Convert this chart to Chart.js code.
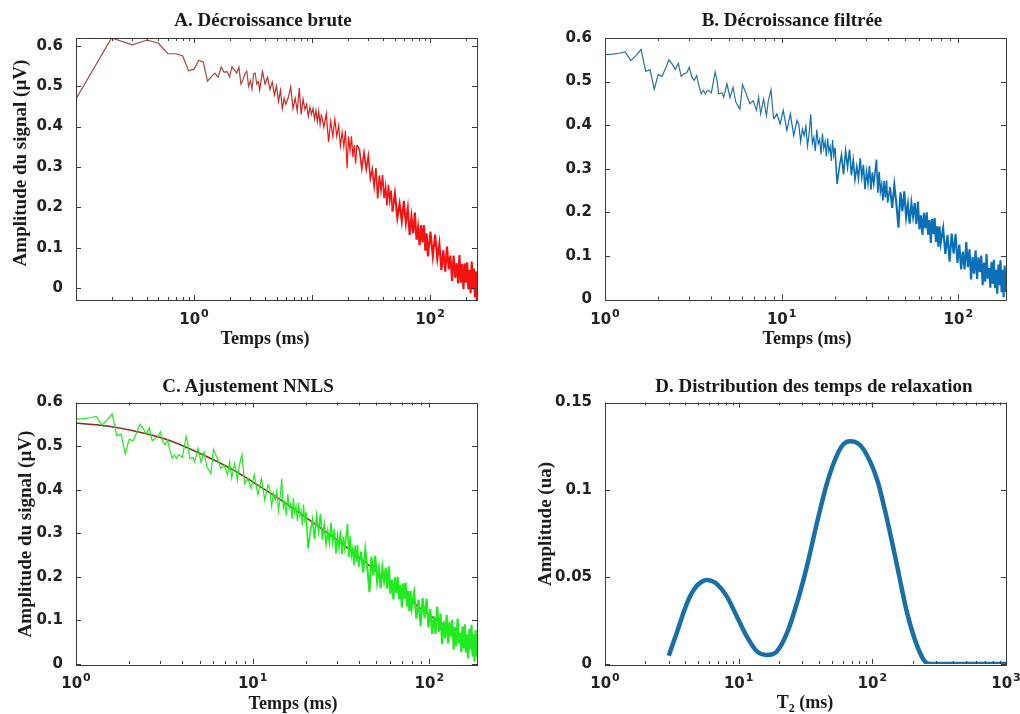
<!DOCTYPE html>
<html>
<head>
<meta charset="utf-8">
<script src="https://cdn.jsdelivr.net/npm/chart.js@4.4.1/dist/chart.umd.min.js"></script>
<style>
  body { margin: 0; background: #fff; }
  #page { position: relative; width: 1020px; height: 714px; overflow: hidden; background: #fff; }
  canvas { position: absolute; }
  .lbl { position: absolute; font-family: 'Liberation Serif', 'Times New Roman', serif; font-weight: bold;
         font-size: 19px; color: #1a1a1a; white-space: nowrap; transform: translate(-50%, -50%); }
  .xl { font-size: 18px; }
  .rot { transform: translate(-50%, -50%) rotate(-90deg); }
  sub { font-size: 12px; }
</style>
</head>
<body>
<div id="page">
  <canvas id="chartA" width="510" height="357" style="left:0;top:0"></canvas>
  <canvas id="chartB" width="510" height="357" style="left:510px;top:0"></canvas>
  <canvas id="chartC" width="510" height="357" style="left:0;top:357px"></canvas>
  <canvas id="chartD" width="510" height="357" style="left:510px;top:357px"></canvas>

  <div class="lbl" style="left:263px;top:20px">A. Décroissance brute</div>
  <div class="lbl" style="left:792px;top:20px">B. Décroissance filtrée</div>
  <div class="lbl" style="left:248px;top:386px">C. Ajustement NNLS</div>
  <div class="lbl" style="left:814px;top:386px">D. Distribution des temps de relaxation</div>

  <div class="lbl xl" style="left:265px;top:338px">Temps (ms)</div>
  <div class="lbl xl" style="left:807px;top:338px">Temps (ms)</div>
  <div class="lbl xl" style="left:293px;top:703px">Temps (ms)</div>
  <div class="lbl xl" style="left:805px;top:704px">T<sub>2</sub> (ms)</div>

  <div class="lbl rot" style="left:20px;top:163px">Amplitude du signal (µV)</div>
  <div class="lbl rot" style="left:25px;top:534px">Amplitude du signal (µV)</div>
  <div class="lbl rot" style="left:545px;top:524px">Amplitude (ua)</div>
</div>
<script>
(function() {
    'use strict';

    // A. raw decay (time in ms, amplitude in µV)
    var rawT = [0.1, 0.2, 0.3, 0.4, 0.5, 0.6, 0.7, 0.8, 0.9, 1.0, 1.1, 1.2, 1.3, 1.4, 1.5, 1.6, 1.7, 1.8, 1.9, 2.0,
        2.1, 2.2, 2.3, 2.4, 2.5, 2.6, 2.7, 2.8, 2.9, 3.0, 3.1, 3.2, 3.3, 3.4, 3.5,
        3.6, 3.8, 4.0, 4.2, 4.4, 4.6, 4.8, 5.0, 5.2, 5.4, 5.6, 5.8, 6.0,
        6.3, 6.6, 6.9, 7.2, 7.5, 7.8, 8.1, 8.4, 8.7, 9.0, 9.3, 9.6, 9.9, 10.2, 10.5, 10.8, 11.1, 11.4, 11.7, 12.0,
        12.6, 13.2, 13.8, 14.4, 15.0, 15.6, 16.2, 16.8, 17.4, 18.0, 18.6, 19.2, 19.8, 20.4, 21.0, 21.6, 22.2, 22.8, 23.4, 24.0,
        25.2, 26.4, 27.6, 28.8, 30.0, 31.2, 32.4, 33.6, 34.8, 36.0, 37.2, 38.4, 39.6, 40.8, 42.0, 43.2, 44.4, 45.6, 46.8, 48.0,
        50.4, 52.8, 55.2, 57.6, 60.0, 62.4, 64.8, 67.2, 69.6, 72.0, 74.4, 76.8, 79.2, 81.6, 84.0, 86.4, 88.8, 91.2, 93.6, 96.0,
        100.8, 105.6, 110.4, 115.2, 120.0, 124.8, 129.6, 134.4, 139.2, 144.0, 148.8, 153.6, 158.4, 163.2, 168.0, 172.8,
        177.6, 182.4, 187.2, 192.0, 196.8, 201.6, 206.4, 211.2, 216.0, 220.8, 225.6, 230.4, 235.2, 240.0, 244.8, 249.6];
    var rawV = [0.468, 0.619, 0.602, 0.614, 0.606, 0.58, 0.58, 0.575, 0.538, 0.542, 0.564, 0.559, 0.512, 0.523, 0.532, 0.522, 0.547, 0.534, 0.536, 0.523,
        0.548, 0.54, 0.532, 0.547, 0.505, 0.515, 0.53, 0.537, 0.499, 0.514, 0.493, 0.53, 0.532, 0.505, 0.512,
        0.49, 0.536, 0.505, 0.522, 0.492, 0.51, 0.478, 0.5, 0.462, 0.49, 0.444, 0.47, 0.455,
        0.472, 0.498, 0.445, 0.47, 0.438, 0.495, 0.43, 0.468, 0.442, 0.455, 0.425, 0.448, 0.43, 0.445, 0.418, 0.44, 0.412, 0.438, 0.405, 0.43,
        0.398, 0.432, 0.362, 0.413, 0.376, 0.418, 0.376, 0.402, 0.352, 0.386, 0.35, 0.39, 0.297, 0.376, 0.34, 0.376, 0.324, 0.354, 0.308, 0.354,
        0.344, 0.296, 0.336, 0.294, 0.328, 0.271, 0.295, 0.251, 0.297, 0.222, 0.279, 0.242, 0.28, 0.223, 0.252, 0.205, 0.256, 0.216, 0.242, 0.19,
        0.234, 0.174, 0.209, 0.166, 0.216, 0.162, 0.198, 0.132, 0.177, 0.136, 0.187, 0.12, 0.151, 0.106, 0.156, 0.114, 0.156, 0.093, 0.136, 0.079,
        0.14, 0.079, 0.133, 0.073, 0.111, 0.045, 0.094, 0.041, 0.103, 0.047, 0.081, 0.018, 0.081, 0.026, 0.062, 0.012,
        0.082, 0.014, 0.06, -0.002, 0.062, 0.014, 0.064, -0.002, 0.046, -0.012, 0.066, -0.003, 0.049, -0.022, 0.042, -0.029];

    // B/C. filtered decay
    var filtT = [1.0, 1.1, 1.2, 1.3, 1.4, 1.5, 1.6, 1.7, 1.8, 1.9, 2.0, 2.1, 2.2, 2.3, 2.4, 2.5, 2.6, 2.7, 2.8, 2.9,
        3.0, 3.1, 3.2, 3.3, 3.4, 3.5, 3.6, 3.7, 3.8, 3.9, 4.0, 4.2, 4.3, 4.4, 4.6, 4.7, 4.9, 5.1, 5.3, 5.5, 5.8,
        6.0, 6.3, 6.6, 6.9, 7.2, 7.4, 7.6, 7.9, 8.2, 8.4, 8.7, 9.0, 9.4, 9.8, 10.2, 10.7, 11.2, 11.7, 12.2,
        12.5, 12.8, 13.1, 13.4, 13.7, 14.0, 14.3, 14.6, 14.9, 15.2, 15.5, 15.8, 16.1, 16.4, 16.7, 17.0, 17.3, 17.6, 17.9, 18.2,
        18.5, 18.8, 19.1, 19.4, 19.7, 20.0,
        20.6, 21.2, 21.8, 22.4, 23.0, 23.6, 24.2, 24.8, 25.4, 26.0, 26.6, 27.2, 27.8, 28.4, 29.0, 29.6, 30.2, 30.8, 31.4, 32.0,
        32.6, 33.2, 33.8, 34.4, 35.0, 35.6, 36.2, 36.8, 37.4, 38.0, 38.6, 39.2, 39.8,
        41.0, 42.2, 43.4, 44.6, 45.8, 47.0, 48.2, 49.4, 50.6, 51.8, 53.0, 54.2, 55.4, 56.6, 57.8, 59.0, 60.2, 61.4, 62.6, 63.8,
        65.0, 66.2, 67.4, 68.6, 69.8, 71.0, 72.2, 73.4, 74.6, 75.8, 77.0, 78.2, 79.4,
        82.0, 84.4, 86.8, 89.2, 91.6, 94.0, 96.4, 98.8, 101.2, 103.6, 106.0, 108.4, 110.8, 113.2, 115.6, 118.0, 120.4, 122.8, 125.2, 127.6,
        130.0, 132.4, 134.8, 137.2, 139.6, 142.0, 144.4, 146.8, 149.2, 151.6, 154.0, 156.4, 158.8, 161.2, 163.6, 166.0, 168.4, 170.8, 173.2, 175.6,
        178.0, 180.4, 182.8, 185.2];
    var filtV = [0.562, 0.563, 0.565, 0.568, 0.548, 0.56, 0.574, 0.524, 0.527, 0.482, 0.516, 0.512, 0.53, 0.55, 0.54, 0.528, 0.542, 0.512, 0.518, 0.52,
        0.533, 0.51, 0.503, 0.514, 0.49, 0.472, 0.48, 0.472, 0.48, 0.478, 0.474, 0.522, 0.504, 0.472, 0.474, 0.464, 0.495, 0.463, 0.487, 0.453, 0.437,
        0.493, 0.472, 0.449, 0.456, 0.434, 0.464, 0.426, 0.46, 0.422, 0.456, 0.481, 0.414, 0.426, 0.403, 0.434, 0.388, 0.426, 0.376, 0.411,
        0.402, 0.362, 0.391, 0.376, 0.398, 0.352, 0.381, 0.425, 0.358, 0.372, 0.341, 0.39, 0.357, 0.367, 0.333, 0.381, 0.346, 0.362, 0.328, 0.37,
        0.339, 0.351, 0.318, 0.366, 0.33, 0.348,
        0.265, 0.304, 0.332, 0.287, 0.341, 0.304, 0.344, 0.285, 0.32, 0.275, 0.305, 0.277, 0.324, 0.28, 0.309, 0.253, 0.294, 0.266, 0.307, 0.252,
        0.292, 0.265, 0.293, 0.321, 0.245, 0.293, 0.248, 0.264, 0.227, 0.272, 0.234, 0.273, 0.222,
        0.258, 0.21, 0.263, 0.219, 0.165, 0.246, 0.203, 0.248, 0.189, 0.219, 0.174, 0.221, 0.19, 0.221, 0.173, 0.224, 0.161, 0.193, 0.148, 0.199,
        0.163, 0.2, 0.149, 0.182, 0.13, 0.185, 0.15, 0.187, 0.132, 0.168, 0.121, 0.168, 0.129,
        0.164, 0.104, 0.148, 0.087, 0.151, 0.105, 0.15, 0.084, 0.126, 0.069, 0.11, 0.069, 0.132, 0.074, 0.115, 0.046, 0.098, 0.059, 0.113, 0.047,
        0.097, 0.063, 0.101, 0.033, 0.085, 0.041, 0.104, 0.048, 0.072, 0.027, 0.086, 0.036, 0.091, 0.026, 0.068, 0.013, 0.08, 0.033, 0.09, 0.017,
        0.068, 0.005, 0.078, 0.017];

    // C. NNLS fit
    var fitT = [1, 1.5, 2.11, 3.26, 5.04, 7.79, 10, 15, 23.1, 35.7, 55.1, 85.2, 101, 131.5, 188];
    var fitV = [0.553, 0.546, 0.535, 0.515, 0.483, 0.445, 0.418, 0.372, 0.318, 0.261, 0.199, 0.134, 0.111, 0.08, 0.042];

    // D. T2 distribution
    var distT = [3.0, 3.44, 3.86, 4.33, 4.86, 5.3, 5.77, 6.3, 6.86, 8.15, 9.69, 11.5, 13.7, 16.3, 19.3, 23.0, 27.3, 32.4,
        38.5, 45.8, 54.5, 61, 68.6, 77, 86.3, 108.6, 129, 153.5, 182, 217, 250, 273, 300, 400, 600, 1000];
    var distV = [0.0048, 0.0178, 0.0293, 0.0388, 0.0449, 0.0472, 0.0482, 0.0476, 0.046, 0.0388, 0.0273, 0.0158, 0.0072, 0.0052, 0.0072, 0.0178, 0.035, 0.056,
        0.0809, 0.1038, 0.12, 0.1262, 0.1278, 0.1268, 0.123, 0.1057, 0.0828, 0.056, 0.0293, 0.0101, 0.001, 0, 0, 0, 0, 0];

    // tick values / labels (x labels are 10 raised to the listed exponent)
    var xTicksA = [1, 100];
    var xExpA = ['0', '2'];
    var xTicksBC = [1, 10, 100];
    var xExpBC = ['0', '1', '2'];
    var xTicksD = [1, 10, 100, 1000];
    var xExpD = ['0', '1', '2', '3'];
    var yTicksSig = [0, 0.1, 0.2, 0.3, 0.4, 0.5, 0.6];
    var yLabelsSig = ['0', '0.1', '0.2', '0.3', '0.4', '0.5', '0.6'];
    var yTicksD = [0, 0.05, 0.1, 0.15];
    var yLabelsD = ['0', '0.05', '0.1', '0.15'];

    var pts = function(xs, ys, from, to) {
        var out = [];
        xs.forEach(function(x, i) {
            if (x >= from && x <= to) out.push({ x: x, y: ys[i] });
        });
        return out;
    };

    // box, inward ticks and 10^n labels, like the original axes
    var frame = {
        id: 'frame',
        afterDatasetsDraw: function(chart, args, opts) {
            var a = chart.chartArea, c = chart.ctx, xs = chart.scales.x, ys = chart.scales.y;
            c.save();
            c.strokeStyle = '#3a3a3a';
            c.lineWidth = 1;
            c.beginPath();
            var lo = Math.floor(Math.log10(xs.min)), hi = Math.ceil(Math.log10(xs.max));
            for (var e = lo; e <= hi; e++) {
                for (var k = 1; k < 10; k++) {
                    var v = k * Math.pow(10, e);
                    if (v < xs.min * 0.999 || v > xs.max * 1.001) continue;
                    var px = Math.round(xs.getPixelForValue(v)) + 0.5;
                    var len = k === 1 ? 5 : 3;
                    c.moveTo(px, a.bottom); c.lineTo(px, a.bottom - len);
                    c.moveTo(px, a.top); c.lineTo(px, a.top + len);
                }
            }
            ys.ticks.forEach(function(t) {
                var py = Math.round(ys.getPixelForValue(t.value)) + 0.5;
                c.moveTo(a.left, py); c.lineTo(a.left + 5, py);
                c.moveTo(a.right, py); c.lineTo(a.right - 5, py);
            });
            c.stroke();
            c.strokeRect(Math.round(a.left) + 0.5, Math.round(a.top) + 0.5,
                Math.round(a.right - a.left), Math.round(a.bottom - a.top));

            c.fillStyle = '#222';
            c.textBaseline = 'alphabetic';
            c.textAlign = 'left';
            var big = 'bold 15px "DejaVu Sans"', small = 'bold 11px "DejaVu Sans"';
            opts.ticks.forEach(function(v, i) {
                c.font = big;
                var w1 = c.measureText('10').width;
                c.font = small;
                var w2 = c.measureText(opts.exps[i]).width;
                var x0 = xs.getPixelForValue(v) - (w1 + 1 + w2) / 2;
                c.font = big;
                c.fillText('10', x0, a.bottom + 24);
                c.font = small;
                c.fillText(opts.exps[i], x0 + w1 + 1, a.bottom + 17);
            });
            c.restore();
        }
    };

    var makeChart = function(id, datasets, cfg) {
        return new Chart(document.getElementById(id), {
            type: 'line',
            data: { datasets: datasets },
            plugins: [frame],
            options: {
                responsive: false,
                animation: false,
                events: [],
                layout: { padding: cfg.padding },
                plugins: {
                    legend: { display: false },
                    tooltip: { enabled: false },
                    frame: { ticks: cfg.xTicks, exps: cfg.xExps }
                },
                elements: { point: { radius: 0 }, line: { tension: 0 } },
                scales: {
                    x: {
                        type: 'logarithmic',
                        min: cfg.xMin,
                        max: cfg.xMax,
                        grid: { display: false },
                        border: { display: false },
                        afterBuildTicks: function(s) {
                            s.ticks = cfg.xTicks.map(function(v) { return { value: v }; });
                        },
                        afterFit: function(s) { s.height = 40; },
                        ticks: { display: false }
                    },
                    y: {
                        min: cfg.yMin,
                        max: cfg.yMax,
                        grid: { display: false },
                        border: { display: false },
                        afterBuildTicks: function(s) {
                            s.ticks = cfg.yTicks.map(function(v) { return { value: v }; });
                        },
                        afterFit: function(s) { s.width = cfg.yW; },
                        ticks: {
                            autoSkip: false, padding: 5, color: '#222',
                            font: { family: 'DejaVu Sans', weight: 'bold', size: 15 },
                            callback: function(v, i) { return cfg.yLabels[i]; }
                        }
                    }
                }
            }
        });
    };

    var redTone = function(ctx) {
        var t = ctx.p0.parsed.x;
        return t < 3.5 ? '#a8463f' : (t < 12 ? '#c42b28' : '#ee1616');
    };

    //A
    makeChart('chartA', [
        { data: pts(rawT, rawV, 0, 24), borderColor: '#c42b28', borderWidth: 1.2, segment: { borderColor: redTone } },
        { data: pts(rawT, rawV, 24, 48), borderColor: '#ee1616', borderWidth: 1.6 },
        { data: pts(rawT, rawV, 48, 1000), borderColor: '#f21212', borderWidth: 2.1 }
    ], {
        padding: { left: 0, top: 38, right: 33, bottom: 17 }, yW: 76,
        xMin: 0.1, xMax: 250, yMin: -0.029, yMax: 0.619,
        xTicks: xTicksA, xExps: xExpA, yTicks: yTicksSig, yLabels: yLabelsSig
    });

    //B
    makeChart('chartB', [
        {
            data: pts(filtT, filtV, 0, 20), borderColor: '#0c6fb4', borderWidth: 1.2,
            segment: { borderColor: function(ctx) { return ctx.p0.parsed.x < 9 ? '#2d7296' : '#0c6fb4'; } }
        },
        { data: pts(filtT, filtV, 20, 41), borderColor: '#0c6fb4', borderWidth: 1.6 },
        { data: pts(filtT, filtV, 41, 1000), borderColor: '#0a6fb6', borderWidth: 2.1 }
    ], {
        padding: { left: 0, top: 38, right: 14, bottom: 17.5 }, yW: 95,
        xMin: 1, xMax: 186, yMin: 0, yMax: 0.6,
        xTicks: xTicksBC, xExps: xExpBC, yTicks: yTicksSig, yLabels: yLabelsSig
    });

    //C
    makeChart('chartC', [
        { data: pts(filtT, filtV, 0, 20), borderColor: '#22ea22', borderWidth: 1.2 },
        { data: pts(filtT, filtV, 20, 41), borderColor: '#22ea22', borderWidth: 1.6 },
        { data: pts(filtT, filtV, 41, 1000), borderColor: '#22ea22', borderWidth: 2.1 },
        { data: pts(fitT, fitV, 0, 1000), borderColor: '#8e2a22', borderWidth: 1.5, cubicInterpolationMode: 'monotone' }
    ], {
        padding: { left: 0, top: 45.5, right: 33, bottom: 10 }, yW: 76,
        xMin: 1, xMax: 186, yMin: 0, yMax: 0.6,
        xTicks: xTicksBC, xExps: xExpBC, yTicks: yTicksSig, yLabels: yLabelsSig
    });

    //D
    makeChart('chartD', [{
        data: pts(distT, distV, 0, 1000),
        borderColor: '#1a6fa6',
        borderWidth: 4.5,
        cubicInterpolationMode: 'monotone'
    }], {
        padding: { left: 0, top: 45.5, right: 14, bottom: 10 }, yW: 95,
        xMin: 1, xMax: 1000, yMin: 0, yMax: 0.15,
        xTicks: xTicksD, xExps: xExpD, yTicks: yTicksD, yLabels: yLabelsD
    });
})();
</script>
</body>
</html>
